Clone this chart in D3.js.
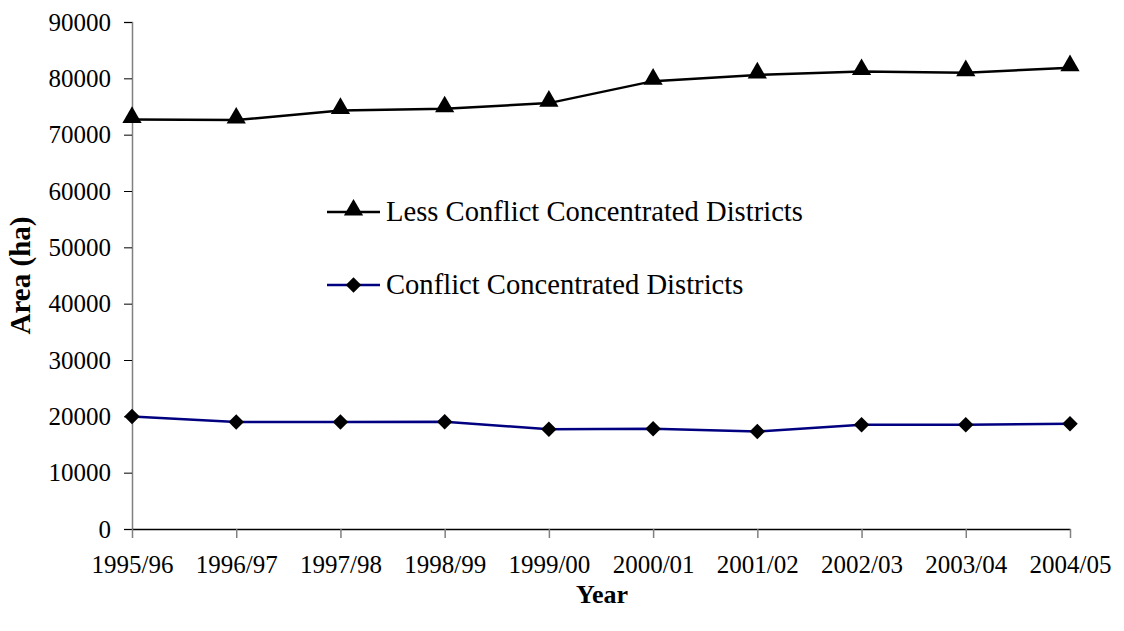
<!DOCTYPE html>
<html>
<head>
<meta charset="utf-8">
<script src="https://cdn.jsdelivr.net/npm/d3@7"></script>
<style>
  body { margin: 0; background: #fff; }
  svg { display: block; }
  svg text { font-family: "Liberation Serif", "Times New Roman", serif; fill: #000; }
</style>
</head>
<body>
<svg id="chart" width="1124" height="631"></svg>
<script>
// Growing area by district group, per season
const years = ["1995/96","1996/97","1997/98","1998/99","1999/00","2000/01","2001/02","2002/03","2003/04","2004/05"];
const lessConflict = [72700, 72600, 74300, 74600, 75600, 79500, 80600, 81200, 81000, 81900];
const conflict = [19950, 19000, 19000, 19050, 17700, 17800, 17300, 18500, 18500, 18700];
const yTicks = [0, 10000, 20000, 30000, 40000, 50000, 60000, 70000, 80000, 90000];

(function () {
const svg = d3.select("#chart");
const plotLeft = 132, plotRight = 1070, plotTop = 22, plotBottom = 529;
const serif = '"Liberation Serif", "Times New Roman", serif';

const x = d3.scalePoint().domain(years).range([plotLeft, plotRight]);
const y = d3.scaleLinear().domain([0, 90000]).range([plotBottom, plotTop]);

// Y axis
const yAxis = svg.append("g")
  .attr("transform", `translate(${plotLeft},0)`)
  .call(d3.axisLeft(y).tickValues(yTicks).tickSize(8).tickPadding(13).tickFormat(d3.format("d")));
yAxis.attr("font-family", null).attr("font-size", null);
yAxis.select(".domain").attr("stroke", "#808080").attr("stroke-width", 1.5);
yAxis.selectAll(".tick line").attr("stroke", "#000");
yAxis.selectAll("text").style("font-size", "25px").style("font-family", serif);

// X axis
const xAxis = svg.append("g")
  .attr("transform", `translate(0,${plotBottom})`)
  .call(d3.axisBottom(x).tickSize(9).tickSizeOuter(0).tickPadding(17));
xAxis.attr("font-family", null).attr("font-size", null);
xAxis.select(".domain").attr("stroke", "#000").attr("stroke-width", 1.5);
xAxis.selectAll(".tick line").attr("stroke", "#808080").attr("stroke-width", 1.5);
xAxis.selectAll("text").style("font-size", "25px").style("font-family", serif);

// Axis titles
svg.append("text")
  .attr("transform", `translate(30,${(plotTop + plotBottom) / 2}) rotate(-90)`)
  .attr("text-anchor", "middle")
  .style("font-size", "29px").style("font-weight", "bold")
  .text("Area (ha)");
svg.append("text")
  .attr("x", (plotLeft + plotRight) / 2 + 1).attr("y", 603)
  .attr("text-anchor", "middle")
  .style("font-size", "26px").style("font-weight", "bold")
  .text("Year");

const line = d3.line().x((d, i) => x(years[i])).y(d => y(d));
const triangle = d3.symbol().type(d3.symbolTriangle).size(160);
const diamond = d3.symbol().type(d3.symbolSquare).size(120);

// Conflict concentrated districts
svg.append("path").datum(conflict)
  .attr("d", line).attr("fill", "none")
  .attr("stroke", "#000080").attr("stroke-width", 2.5);
svg.selectAll(".dia").data(conflict).enter().append("path")
  .attr("class", "dia")
  .attr("d", diamond)
  .attr("transform", (d, i) => `translate(${x(years[i])},${y(d)}) rotate(45)`)
  .attr("fill", "#000");

// Less conflict concentrated districts
svg.append("path").datum(lessConflict)
  .attr("d", line).attr("fill", "none")
  .attr("stroke", "#000").attr("stroke-width", 2.5);
svg.selectAll(".tri").data(lessConflict).enter().append("path")
  .attr("class", "tri")
  .attr("d", triangle)
  .attr("transform", (d, i) => `translate(${x(years[i])},${y(d) - 2})`)
  .attr("fill", "#000");

// Legend
const legend = [
  { name: "Less Conflict Concentrated Districts", color: "#000", sym: triangle, rot: 0, dy: -2 },
  { name: "Conflict Concentrated Districts", color: "#000080", sym: diamond, rot: 45, dy: 0 }
];
const lg = svg.selectAll(".lg").data(legend).enter().append("g")
  .attr("class", "lg")
  .attr("transform", (d, i) => `translate(327,${212 + i * 73})`);
lg.append("line").attr("x1", 0).attr("x2", 53).attr("y1", 0).attr("y2", 0)
  .attr("stroke", d => d.color).attr("stroke-width", 2.5);
lg.append("path").attr("d", d => d.sym())
  .attr("transform", d => `translate(26.5,${d.dy}) rotate(${d.rot})`)
  .attr("fill", "#000");
lg.append("text").attr("x", 59).attr("y", 9)
  .style("font-size", "28.6px").text(d => d.name);
})();
</script>
</body>
</html>
